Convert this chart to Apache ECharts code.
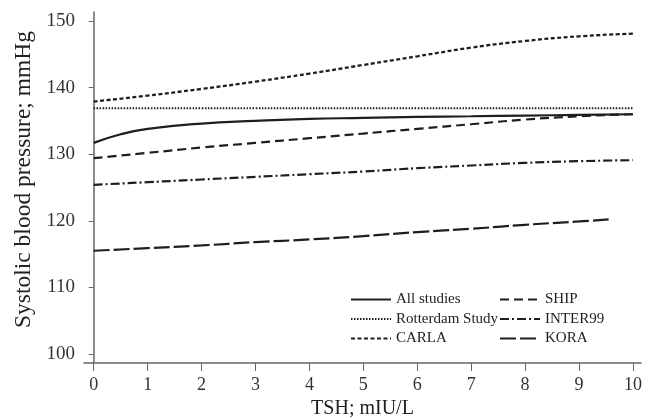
<!DOCTYPE html>
<html>
<head>
  <meta charset="UTF-8">
  <title>TSH vs systolic blood pressure</title>
  <script src="https://cdn.jsdelivr.net/npm/echarts@6/dist/echarts.min.js"></script>
  <style>
    body { margin: 0; background: #fff; }
    #chart { width: 649px; height: 418px; }
  </style>
</head>
<body>
<div id="chart"></div>
<script>
  // x positions (TSH, mIU/L)
  var tsh = [0, 1, 2, 3, 4, 5, 6, 7, 8, 9, 10];
  var tshAll = [0, 0.5, 1, 2, 3, 4, 5, 6, 7, 8, 9, 10];
  var tshKora = [0, 1, 2, 3, 4, 5, 6, 7, 8, 9, 9.55];

  // systolic blood pressure, mmHg
  var allStudies = [131.7, 133.0, 133.8, 134.6, 135.0, 135.3, 135.45, 135.6, 135.7, 135.8, 135.9, 136.0];
  var rotterdam  = [136.9, 136.9, 136.9, 136.9, 136.9, 136.9, 136.9, 136.9, 136.9, 136.9, 136.9];
  var carla      = [137.9, 138.8, 139.8, 140.9, 142.1, 143.4, 144.7, 146.0, 147.0, 147.7, 148.1];
  var ship       = [129.4, 130.2, 131.0, 131.7, 132.4, 133.1, 133.8, 134.5, 135.2, 135.7, 136.0];
  var inter99    = [125.4, 125.8, 126.2, 126.6, 127.0, 127.4, 127.9, 128.3, 128.7, 128.95, 129.1];
  var kora       = [115.5, 115.9, 116.3, 116.8, 117.2, 117.7, 118.3, 118.8, 119.4, 119.9, 120.2];

  var xTicks = [0, 1, 2, 3, 4, 5, 6, 7, 8, 9, 10];
  var yTicks = [100, 110, 120, 130, 140, 150];

  function pairs(xs, ys) {
    return xs.map(function (x, i) { return [x, ys[i]]; });
  }

  var ink = '#1e1e1e';
  var font = '"Liberation Serif", "DejaVu Serif", serif';

  function mk(name, xs, ys, type, width) {
    return {
      name: name,
      type: 'line',
      data: pairs(xs, ys),
      smooth: true,
      symbol: 'none',
      lineStyle: { color: ink, width: width, type: type },
      itemStyle: { color: ink }
    };
  }

  var legendBase = {
    orient: 'vertical', top: 287,
    itemWidth: 40, itemHeight: 14, itemGap: 4.5,
    itemStyle: { opacity: 0 },
    textStyle: { fontFamily: font, fontSize: 15, color: '#222' }
  };

  var chart = echarts.init(document.getElementById('chart'));
  chart.setOption({
    animation: false,
    backgroundColor: '#fff',
    grid: { left: 84, right: 8, top: 12, bottom: 55, containLabel: false, outerBoundsMode: 'none' },
    legend: [
      Object.assign({ data: ['All studies', 'Rotterdam Study', 'CARLA'], left: 345 }, legendBase),
      Object.assign({ data: ['SHIP', 'INTER99', 'KORA'], left: 494 }, legendBase)
    ],
    xAxis: {
      type: 'value',
      min: -0.18, max: 10.15,
      name: 'TSH; mIU/L',
      nameLocation: 'middle',
      nameGap: 32,
      nameTextStyle: { fontFamily: font, fontSize: 20, color: '#222' },
      splitLine: { show: false },
      axisLine: { show: true, lineStyle: { color: '#666', width: 1.5 } },
      axisTick: { show: true, customValues: xTicks, length: 8, lineStyle: { color: '#666' } },
      axisLabel: { customValues: xTicks, margin: 13, fontFamily: font, fontSize: 18, color: '#333' }
    },
    yAxis: {
      type: 'value',
      min: 98.65, max: 151.35,
      name: 'Systolic blood pressure; mmHg',
      nameLocation: 'middle',
      nameGap: 48,
      nameTextStyle: { fontFamily: font, fontSize: 23.5, color: '#222', padding: [0, 0, 0, 16] },
      splitLine: { show: false },
      axisLine: { show: true, lineStyle: { color: '#666', width: 1.5 } },
      axisTick: { show: true, customValues: yTicks, length: 5, lineStyle: { color: '#666' } },
      axisLabel: { customValues: yTicks, margin: 9, fontFamily: font, fontSize: 19, color: '#333' }
    },
    series: [
      mk('All studies', tshAll, allStudies, 'solid', 2.2),
      mk('Rotterdam Study', tsh, rotterdam, [1.5, 1.5], 2),
      mk('CARLA', tsh, carla, [4, 2.5], 2.3),
      mk('SHIP', tsh, ship, [9, 5], 2.2),
      mk('INTER99', tsh, inter99, [9, 3, 2, 3], 2.2),
      mk('KORA', tshKora, kora, [16, 4], 2.2)
    ]
  });
</script>
</body>
</html>
